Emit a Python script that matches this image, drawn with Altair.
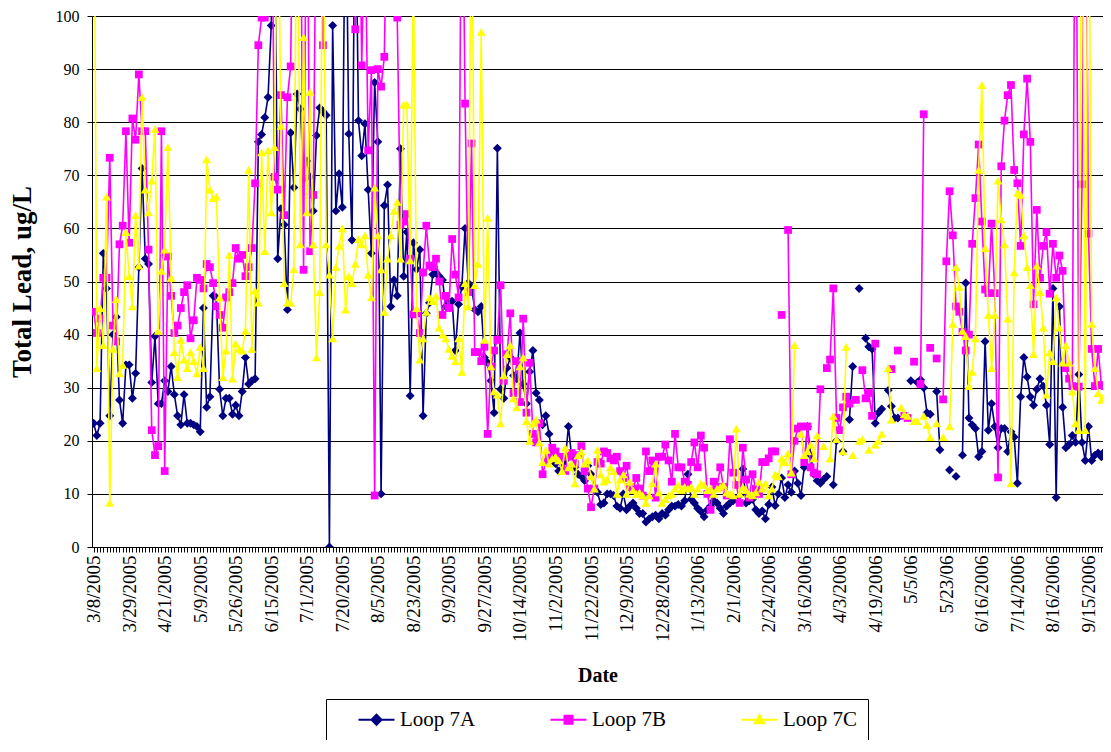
import json
import altair as alt
import pandas as pd

# ---------------- data ----------------
series_names = ["Loop 7A", "Loop 7B", "Loop 7C"]
series_colors = ["#000080", "#FF00FF", "#FFFF00"]

date_labels = ["3/8/2005", "3/29/2005", "4/21/2005", "5/9/2005", "5/26/2005", "6/15/2005",
               "7/1/2005", "7/20/2005", "8/5/2005", "8/23/2005", "9/9/2005", "9/27/2005",
               "10/14/2005", "11/2/2005", "11/22/2005", "12/9/2005", "12/28/2005", "1/13/2006",
               "2/1/2006", "2/24/2006", "3/16/2006", "4/3/2006", "4/19/2006", "5/5/06",
               "5/23/06", "6/16/2006", "7/14/2006", "8/16/2006", "9/15/2006"]
label_step = 11
visible_points = 313

loop_7a = [
    23.3, 21, 23.3, 55.3, 48.7, 24.7, 40, 43.3, 27.7, 23.3, 34.3, 34.3, 28, 32.7, 52.7, 71.3, 54.3,
    53.3, 31, 39.7, 27, 27, 31.3, 29.3, 34, 28.7, 24.7, 23, 28.7, 23.3, 23.3, 23, 22.7, 21.7,
    45, 26.3, 28.3, 47.3, 47, 29.7, 24.7, 28, 28, 25, 26.7, 24.7, 29.3, 35.7, 30.7, 31.3, 31.7, 76.3,
    77.7, 80.9, 84.7, 98.2, 130, 54.3, 63.7, 60.7, 44.7, 78, 67.7, 85.3, 82.5, 69.3, 72.7, 69.7,
    63.3, 77.5,
    82.7, 82, 81.3, 0, 98.2, 63.3, 70.3, 64, 130, 77.8, 57.8, 130, 80.3, 73.7, 79.7, 67.3, 55.3,
    87.5, 76.3, 10, 64.3, 68.2, 45.3, 50.3, 47.3, 75, 51, 59.3, 28.5, 57.3, 52.3, 56, 24.7, 44, 46,
    51.3, 51.7, 51, 50.3, 45.3, 46.3, 46.3, 37, 45.7, 49, 60, 49.7, 49, 44.7, 44.3, 45.3, 35.7,
    34.7, 31.3, 25.3, 75.1, 29.7, 28, 33.7, 35.7, 32.3, 31.7, 40.3, 30.7, 27, 33, 37, 29, 27.7, 23,
    24.7, 21.3,
    17, 15.7, 14.3, 15.7, 16.3, 22.7, 17, 15, 13.7, 13.3, 12.5, 15.3, 13.7, 11, 10.3, 8,
    8.3, 10, 10, 9.7, 7.7, 7.3, 10, 7, 7.7, 8.3, 7.3, 6.3, 6.3, 4.7, 5.3, 5.7,
    6, 5.3, 6.3, 6, 7, 7.7, 7.7, 8, 7.7, 8.7, 13.7, 9, 8.3, 7.3, 6.7, 5.7, 7, 7.7, 8.7,
    8.3, 7.3, 6.3, 7.7, 8.3, 8.7, 9, 9.7, 14.7, 8.3, 8.7, 9, 7, 6.3, 6.8,
    5.3, 8, 11.3, 7.8, 10, 13, 9.3, 11.7, 10.3, 14.3, 12, 9.7, 15, 22.7, 17.3, 13.7, 12.5, 12,
    12.7, 13.3, None, 11.7, 20, None, 18, None, 24, 34, None, 48.7, None, 39.3, 37.7, 37.3, 23.3,
    25.3, 26, None, 29.5, 26.5, 24.3, 24.3, None, None, None, 31.3, None, 31, 31.5, 30, 25.3, 25,
    None, 29.3, 18.3, None, None, 14.5, None, 13.3, None, 17.3, 49.7, 24.3, 23, 22.3, 17, 18, 38.7,
    22, 27, 22.7, 18.7, 22.3, 22.3, 18, 21.7, 20.7, 12, 28.3, 35.7, 32, 28.3, 26.7, 29.7, 31.7,
    30.3, 26.7, 19.3, 48.7, 9.3, 45.3, 26.3, 18.7, 19.3, 21, 19.7, 32.5, 19.7, 16.3, 22.7, 16.3,
    17.3, 17.7, 17, 18, 22, 26,
]

loop_7b = [
    44.3, 40.3, 43, 50.7, 50.7, 73.3, 41.7, 38.7, 57, 60.5, 78.3, 57.3, 80.7, 76.7, 89, 78.3, 78.3,
    56, 22, 17.3, 19, 78.3, 14.3, 54.7, 47.3, 40.3, 41.7, 45, 48, 49.3, 39.3, 42.7, 50.7, 50.3,
    48.7, 53.3, 52.7, 49.7, 45.3, 43.7, 41.3, 47, 48, 49.7, 56.3, 54.3, 55, 51, 52.7, 56.3, 68.5,
    94.5, 99.7, 99.7, 120, 140, 69.7, 67.3, 85.1, 62.5, 84.7, 90.5, 140, 150, 130, 52.2, 140, 55.7,
    66.3, 130,
    120, 94.5, 150, 200, 160, 140, 120, 130, 150, 170, 140, 97.5, 140, 90.7, 120, 74.7, 89.8, 9.7,
    90, 86.7, 92.3, 130, 160, 140, 99.7, 60.7, 61.3, 62.7, 54.3, 43.8, 44, 40.3, 51.7, 60.5, 53,
    52.7, 54.3, 50, 43.7, 47.3, 45, 58, 51.3, 47, 140, 83.5, 48, 76, 36.7, 36.7, 35, 37.7, 21.3,
    34, 37, 39, 49.3, 31.3, 36.3, 44, 29, 35, 27.3, 43, 25.3, 34.7, 21.3, 19.7, 23.3, 13.7, 16, 17,
    18.7, 18, 16.3, 17, 14.3, 17, 17.7, 15.7, 17.3, 19, 14.3, 11, 7.5, 11, 16, 15.7, 18,
    17.7, 16.7, 16.3, 17, 14.3, 13, 15.3, 11.3, 11, 13, 11, 9.7, 18, 14.3, 16.3,
    9.3, 17, 17, 19.3, 16.3, 12.3, 21.3, 15, 15, 12.3, 11.7, 16, 19.7, 15, 21, 18.7, 10, 7,
    12.3, 11.3, 15, 11.3, 9.7, 20.3, 14, 11.7, 8.3, 18.7, 12.7, 9.3, 13.7, 11, 10, 16,
    16, 16.7, 18, 18, None, 43.7, None, 59.7, 13.7, 20, 22.3, 22.7, 16, 22.7, 15, 14, 13.7, 29.7,
    None, 33.7, 35.3, 48.7, 24.3, 22, 26.3, 28.3, 27, None, 27.7, None, 33.3, 28, 29, 24.7, 38.3,
    None, None, None, None, 33.5, None, 37, None, 24.7, 24.3, None, 34.9, None, 30.7, 81.5, None,
    37.5, None, 35.5, None, 27.8, 53.8, 67, 58.7, 45.3, 44.3, 40.5, 37, 40, 57.1, 65.7, 75.8, 61.3, 48.5,
    47.8, 60.9, 47.8, 13.1, 71.7, 80.3, 85.1, 87, 71, 68.5, 56.7, 77.7, 88.2, 76.3, 45.7, 63.5,
    50.7, 56.7, 59.3, 47.7, 57.1, 50.7, 54.9, 52, 33.7, 31.7, 30.3, 150, 30.2, 68.3, 150, 59,
    37.3, 30.3, 37.3, 30.5, 30.3, 32, 31,
]

loop_7c = [
    150, 33.7, 45, 38, 66, 8.3, 37.3, 46.7, 32.7, 34.3, 59.3, 51, 45.3, 62.5, 53, 84.7, 67.3, 63,
    69, 78.7, 40.7, 52, 56, 75.3, 50.7, 36.7, 32, 39, 35.3, 33.7, 36.7, 35, 32.7, 37.7,
    33.7, 73, 67.3, 65.7, 66, 47, 32, 37, 55, 31.7, 38.3, 37.3, 37, 40.7, 71, 37.3, 48.3, 46, 74.3,
    55.7, 74.7, 63, 75.3, 130, 79.3, 49.7, 46, 46, 52.3, 140, 57, 96, 63, 85.7, 57, 35.7,
    48, 130, 57, 51.3, 39.3, 52.7, 56.7, 60, 44.7, 51, 49.7, 53.3, 58, 57, 58.7, 51.3, 47, 67.7,
    58.7, 52.3, 44.3, 54.3, 58.7, 63.3, 65, 54.3, 83.3, 83.3, 54, 110, 45, 35.3, 39.3, 44.3, 47,
    46.3, 47.3, 41.3, 40, 39.3, 37.3, 36, 35, 39.3, 33, 49.7, 45.3, 130, 49.3, 53.3, 97, 39, 62,
    34, 29.3, 28.7, 23.3, 32.3, 36.3, 38, 28, 26.3, 34, 35.7, 23.7, 20, 23.3, 24, 19.7, 16, 18.3, 15.7,
    16.7, 17, 16.3, 14.3, 18.7, 15, 15.7, 12, 17.3, 18, 15.7, 16.3, 13.3, 11, 18.3, 13.7,
    12.3, 12.7, 15, 14.3, 10, 12.7, 13.7, 10, 12.3, 10.7, 10, 10.3, 9.7, 8.3, 9.7, 12,
    15.7, 10.3, 8.3, 9, 9.7, 10, 11, 11.7, 10.7, 11.3, 11, 11.3, 10, 11, 12, 11.7, 10.7,
    11, 10, 11, 11.3, 11.7, 10.3, 10, 9.7, 22.3, 10, 11.3, 10.7, 10, 9.7, 10.3, 12.3, 11,
    12, 9.7, 11, 13.7, 13.3, 16.7, 16, 17.7, 14, 38, None, 21.3, 17.3, 18, 19.3, 16.7, 21, None,
    19, None, 16.7, 24.7, 20.3, None, 18, 37.7, None, 17.3, None, 20, 20.3, None, 18.3, None, 19.3,
    20, 21.3, None, 33.7, 24, None, None, 26.3, 25, 24.7, None, 23.7, 23.7, None, 24.7, 23, 20.7,
    None, 23.3, None, 20.7, None, 22.7, 42, 52.7, 49, 40.7, 39.7, 30.3, 33, 39.3, 71, 87, 56.3,
    43.7, 33.7, 43.7, 69, 61.7, 57, 43, 12, 51.7, 66.7, 66.3, 58.7, 52.7, 49.3, 36.3, 53, 48,
    41.3, 28.7, 36.7, 35, 47, 41.3, 34.7, 38, 34.7, 29.3, 23.3, 22, 150, 22, 140, 42, 33.7, 29,
    27.7, 28.7, 32, 31.5,
]

series_values = [loop_7a, loop_7b, loop_7c]

# ---------------- long table (gaps split a series into segments) ----------------
rows = []
for name, vals in zip(series_names, series_values):
    seg = 0
    for i, v in enumerate(vals):
        if v is None:
            seg += 1
            continue
        rows.append({"idx": i, "value": v, "series": name, "seg": f"{name}-{seg}"})
df = pd.DataFrame(rows)

FONT = "Liberation Serif"

label_expr = (
    f"datum.value % {label_step} == 0 && datum.value / {label_step} < {len(date_labels)} ? "
    f"{json.dumps(date_labels)}[datum.value / {label_step}] : ''"
)

x_enc = alt.X(
    "idx:Q",
    scale=alt.Scale(domain=[-0.5, visible_points - 0.5], nice=False, zero=False),
    axis=alt.Axis(
        title="Date", values=list(range(visible_points)), labelExpr=label_expr, labelAngle=270,
        labelOverlap=False, labelFlush=False, labelBound=False,
        labelFont=FONT, labelFontSize=19, labelColor="black", labelPadding=3,
        tickSize=5, tickColor="black", domainColor="black", grid=False,
        titleFont=FONT, titleFontSize=20, titleFontWeight="bold", titleColor="black",
        titlePadding=24,
    ),
)
y_enc = alt.Y(
    "value:Q",
    scale=alt.Scale(domain=[0, 100], nice=False),
    axis=alt.Axis(
        title="Total Lead, ug/L", values=list(range(0, 101, 10)),
        labelFont=FONT, labelFontSize=16, labelColor="black", labelPadding=8,
        tickSize=5, tickColor="black", domainColor="black",
        grid=True, gridColor="black", gridWidth=1,
        titleFont=FONT, titleFontSize=27, titleFontWeight="bold", titleColor="black",
        titlePadding=19,
    ),
)

marker_shapes = ["diamond", "square", "triangle-up"]
marker_sizes = [80, 60, 80]
legend_paths = [
    "M-4.5,0H4.5M0,-1.25L1.25,0L0,1.25L-1.25,0Z",
    "M-4.5,0H4.5M-1,-1H1V1H-1Z",
    "M-4.5,0H4.5M0,-1.2L1.2,0.9H-1.2Z",
]

layers = []
for name, col, shp, sz in zip(series_names, series_colors, marker_shapes, marker_sizes):
    base = alt.Chart(df).transform_filter(alt.datum.series == name)
    layers.append(
        base.mark_line(color=col, strokeWidth=1.6, clip=True).encode(
            x=x_enc, y=y_enc, detail="seg:N")
    )
    layers.append(
        base.mark_point(filled=True, shape=shp, size=sz, color=col, opacity=1,
                        strokeWidth=0, clip=True).encode(x=x_enc, y=y_enc)
    )

legend = alt.Legend(
    title=None, orient="none", legendX=234, legendY=683, direction="horizontal",
    labelFont=FONT, labelFontSize=21, labelColor="black", labelOffset=13,
    symbolSize=64, symbolStrokeWidth=2, symbolOffset=30,
    strokeColor="black", fillColor="white", padding=10, columnPadding=52,
)
legend_layer = alt.Chart(df).transform_filter("false").mark_point(
    filled=True, strokeWidth=2, opacity=1).encode(
    x=x_enc, y=y_enc,
    color=alt.Color("series:N", scale=alt.Scale(domain=series_names, range=series_colors), legend=legend),
    stroke=alt.Stroke("series:N", scale=alt.Scale(domain=series_names, range=series_colors), legend=legend),
    shape=alt.Shape("series:N", scale=alt.Scale(domain=series_names, range=legend_paths), legend=legend),
)
layers.append(legend_layer)

chart = alt.layer(*layers).properties(
    width=1011, height=531,
    autosize=alt.AutoSizeParams(type="none"),
    padding={"left": 84, "top": 8, "right": 0, "bottom": 193},
    background="white",
).configure_view(strokeWidth=0)

chart.save("out.html", embed_options={"renderer": "svg", "actions": False})
